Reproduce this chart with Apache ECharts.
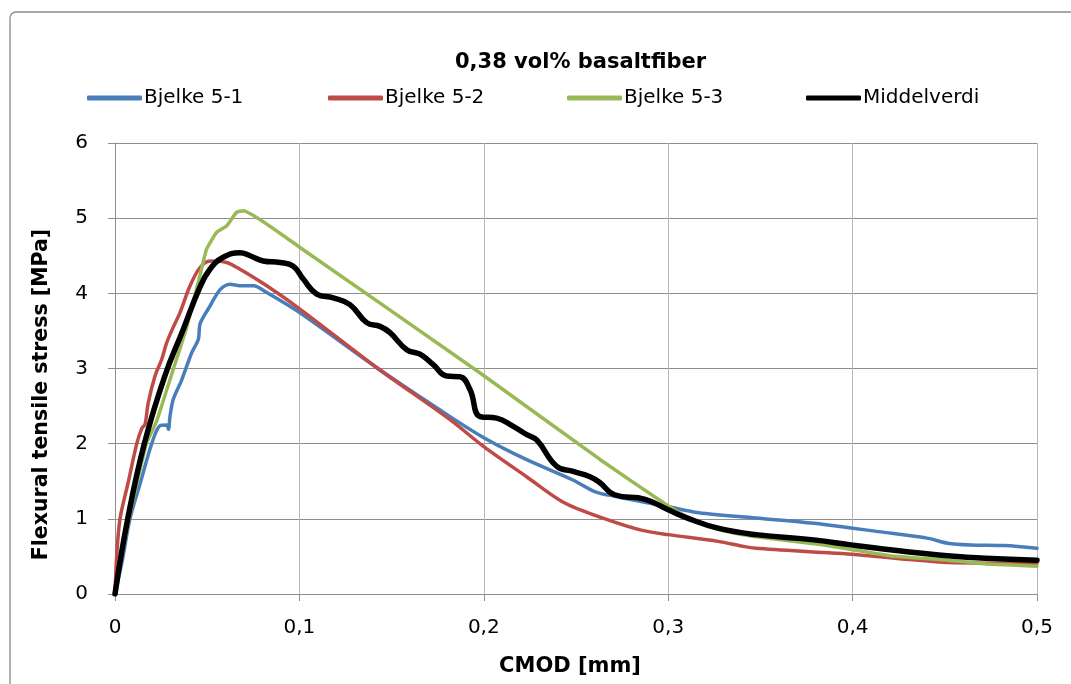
<!DOCTYPE html>
<html>
<head>
<meta charset="utf-8">
<title>0,38 vol% basaltfiber</title>
<script src="https://cdn.jsdelivr.net/npm/echarts@6/dist/echarts.min.js"></script>
<style>
  html, body { margin: 0; padding: 0; background: #ffffff; }
  #chart { width: 1071px; height: 684px; }
</style>
</head>
<body>
<div id="chart"></div>
<script>
// Flexural tensile stress [MPa] versus CMOD [mm] for three beams and their mean curve.
const seriesNames = ['Bjelke 5-1', 'Bjelke 5-2', 'Bjelke 5-3', 'Middelverdi'];
const xTickLabels = ['0', '0,1', '0,2', '0,3', '0,4', '0,5'];
const yTickLabels = ['0', '1', '2', '3', '4', '5', '6'];

const b51Cmod = [0, 0.004, 0.0081, 0.014, 0.0199, 0.0244, 0.028, 0.029, 0.0298, 0.0316, 0.0362, 0.0416, 0.0452, 0.0462, 0.0515, 0.057, 0.0624, 0.0678, 0.075, 0.0823, 0.1003, 0.142, 0.1817, 0.2, 0.223, 0.248, 0.2605, 0.271, 0.2896, 0.30, 0.3166, 0.3476, 0.379, 0.40, 0.414, 0.441, 0.4515, 0.464, 0.4826, 0.50];
const b51Stress = [0, 0.45, 1.0, 1.5, 2.0, 2.24, 2.25, 2.19, 2.36, 2.59, 2.85, 3.21, 3.39, 3.6, 3.83, 4.05, 4.12, 4.10, 4.10, 4.01, 3.74, 3.01, 2.36, 2.08, 1.79, 1.52, 1.36, 1.30, 1.21, 1.16, 1.08, 1.01, 0.94, 0.876, 0.83, 0.74, 0.676, 0.653, 0.644, 0.609];

const b52Cmod = [0, 0.0009, 0.0027, 0.0072, 0.0118, 0.0145, 0.0163, 0.018, 0.0217, 0.0253, 0.028, 0.0316, 0.0352, 0.0407, 0.046, 0.0515, 0.0606, 0.0678, 0.0823, 0.1003, 0.142, 0.1817, 0.2, 0.2232, 0.2439, 0.2646, 0.2854, 0.30, 0.327, 0.3415, 0.3477, 0.3789, 0.3996, 0.4307, 0.4515, 0.50];
const b52Stress = [0, 0.5, 1.0, 1.49, 2.0, 2.2, 2.26, 2.54, 2.9, 3.12, 3.34, 3.55, 3.74, 4.10, 4.34, 4.43, 4.41, 4.32, 4.10, 3.79, 3.01, 2.32, 1.96, 1.56, 1.21, 1.01, 0.85, 0.79, 0.70, 0.63, 0.61, 0.56, 0.53, 0.46, 0.42, 0.41];

const b53Cmod = [0, 0.0075, 0.017, 0.0226, 0.0316, 0.039, 0.046, 0.0497, 0.0551, 0.0606, 0.066, 0.0696, 0.1003, 0.198, 0.263, 0.30, 0.31, 0.32, 0.33, 0.3476, 0.379, 0.40, 0.42, 0.4515, 0.4722, 0.50];
const b53Stress = [0, 1.0, 2.0, 2.3, 2.99, 3.56, 4.23, 4.59, 4.81, 4.90, 5.08, 5.10, 4.61, 2.94, 1.79, 1.17, 1.03, 0.92, 0.84, 0.76, 0.67, 0.59, 0.51, 0.45, 0.40, 0.37];

const meanCmod = [0, 0.0069, 0.0159, 0.027, 0.037, 0.046, 0.0515, 0.0587, 0.0678, 0.0732, 0.0804, 0.0895, 0.0967, 0.1021, 0.1094, 0.1184, 0.1274, 0.1365, 0.1437, 0.149, 0.1582, 0.1654, 0.1726, 0.1799, 0.1871, 0.1925, 0.198, 0.207, 0.216, 0.2233, 0.2287, 0.2395, 0.2485, 0.2576, 0.263, 0.2709, 0.2875, 0.30, 0.3104, 0.327, 0.3476, 0.379, 0.40, 0.4307, 0.4515, 0.4722, 0.50];
const meanStress = [0, 1.0, 2.0, 2.9, 3.52, 4.08, 4.32, 4.48, 4.54, 4.50, 4.43, 4.41, 4.36, 4.19, 3.99, 3.94, 3.85, 3.61, 3.56, 3.48, 3.25, 3.19, 3.05, 2.90, 2.89, 2.72, 2.36, 2.34, 2.23, 2.12, 2.05, 1.70, 1.63, 1.56, 1.48, 1.32, 1.26, 1.12, 1.01, 0.876, 0.79, 0.72, 0.65, 0.56, 0.51, 0.476, 0.45];

const colors = ['#4a7ebb', '#be4b48', '#98b954', '#000000'];
const widths = [3.5, 3.5, 3.5, 5.5];
const smoothness = [0.3, 0.3, 0.12, 0.45];

function pairs(xs, ys) {
  return xs.map((x, i) => [x, ys[i]]);
}
const dataSets = [
  pairs(b51Cmod, b51Stress),
  pairs(b52Cmod, b52Stress),
  pairs(b53Cmod, b53Stress),
  pairs(meanCmod, meanStress)
];

const FONT = 'DejaVu Sans';
const gridColor = '#8e8e8e';
const legendLeft = [87, 328, 567, 806];

const chart = echarts.init(document.getElementById('chart'), null, { renderer: 'canvas' });

chart.setOption({
  animation: false,
  backgroundColor: '#ffffff',
  textStyle: { fontFamily: FONT, color: '#000' },
  title: {
    text: '0,38 vol% basaltfiber',
    left: 455,
    top: 52,
    padding: 0,
    textStyle: { fontFamily: FONT, fontSize: 21, fontWeight: 'bold', color: '#000' }
  },
  graphic: [{
    type: 'rect',
    shape: { x: 10, y: 12, width: 1100, height: 700, r: 6 },
    style: { fill: null, stroke: '#8a8a8a', lineWidth: 1.3 },
    silent: true
  }],
  legend: seriesNames.map((name, i) => ({
    data: [name],
    left: legendLeft[i],
    top: 88,
    padding: 0,
    itemWidth: 55,
    itemHeight: 5,
    icon: 'roundRect',
    selectedMode: false,
    textStyle: { fontFamily: FONT, fontSize: 20, color: '#000', padding: [0, 0, 0, -3] }
  })),
  grid: { left: 115, right: 34, top: 143, bottom: 90, containLabel: false },
  xAxis: {
    type: 'value',
    min: 0,
    max: 0.5,
    interval: 0.1,
    name: 'CMOD [mm]',
    nameLocation: 'middle',
    nameGap: 62,
    nameTextStyle: { fontFamily: FONT, fontSize: 21, fontWeight: 'bold', color: '#000', padding: [0, 12, 0, 0] },
    axisLine: { show: true, lineStyle: { color: gridColor, width: 1 } },
    axisTick: { show: true, inside: false, length: 7, lineStyle: { color: gridColor } },
    axisLabel: {
      margin: 24,
      fontFamily: FONT,
      fontSize: 20,
      color: '#000',
      formatter: v => xTickLabels[Math.round(v / 0.1)]
    },
    splitLine: { show: true, lineStyle: { color: '#b8b8b8', width: 1 } }
  },
  yAxis: {
    type: 'value',
    min: 0,
    max: 6,
    interval: 1,
    name: 'Flexural tensile stress [MPa]',
    nameLocation: 'middle',
    nameGap: 63,
    nameTextStyle: { fontFamily: FONT, fontSize: 20.5, fontWeight: 'bold', color: '#000', padding: [0, 52, 0, 0] },
    axisLine: { show: true, lineStyle: { color: gridColor, width: 1 } },
    axisTick: { show: true, inside: false, length: 7, lineStyle: { color: gridColor } },
    axisLabel: {
      margin: 27,
      fontFamily: FONT,
      fontSize: 20,
      color: '#000',
      formatter: v => yTickLabels[Math.round(v)]
    },
    splitLine: { show: true, lineStyle: { color: gridColor, width: 1 } }
  },
  series: seriesNames.map((name, i) => ({
    name: name,
    type: 'line',
    data: dataSets[i],
    showSymbol: false,
    symbol: 'none',
    smooth: smoothness[i],
    color: colors[i],
    lineStyle: { color: colors[i], width: widths[i], cap: 'round', join: 'round' },
    z: 2 + i
  }))
});
</script>
</body>
</html>
